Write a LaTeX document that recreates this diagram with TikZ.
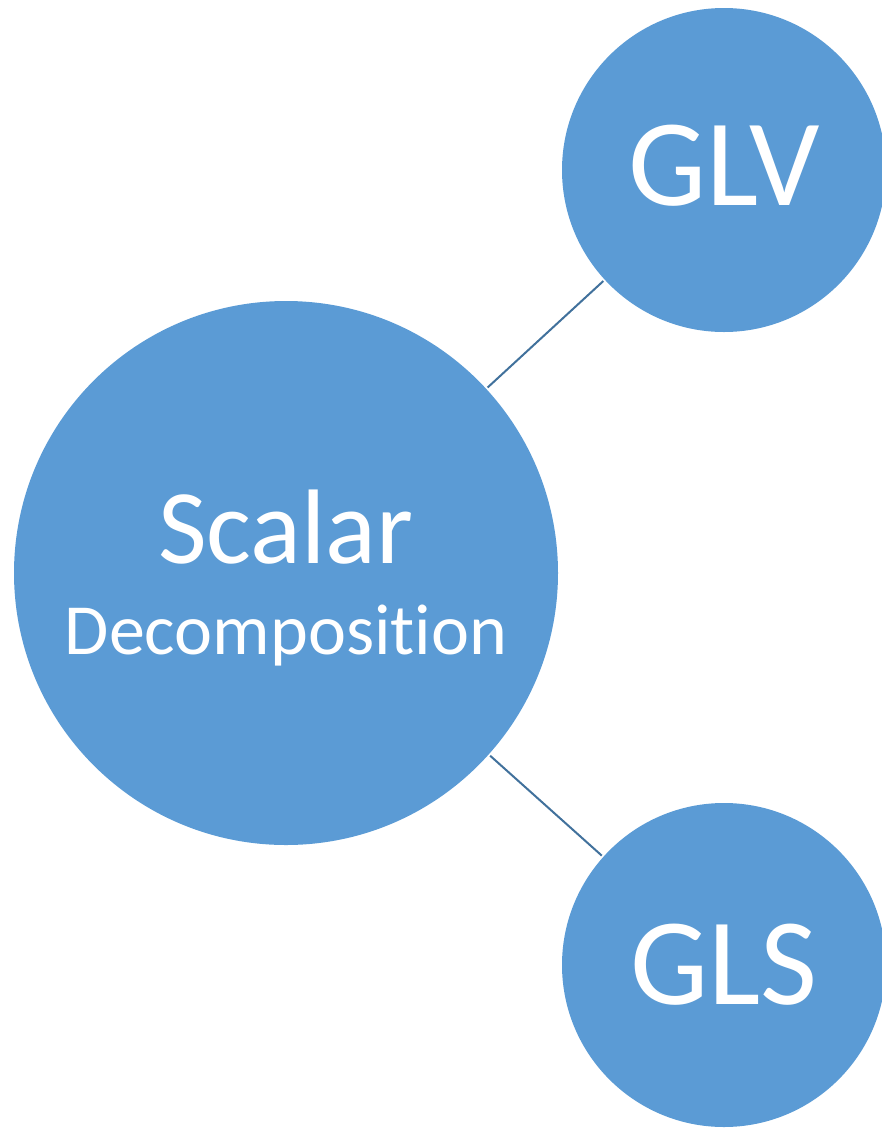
\documentclass[tikz,border=0pt]{standalone}
\usepackage{fontspec}
\setmainfont[Ligatures=NoCommon]{Carlito}
\definecolor{bubble}{HTML}{5B9BD5}
\definecolor{link}{HTML}{41719C}

\begin{document}
\begin{tikzpicture}[x=1pt,y=-1pt,bubble node/.style={circle,fill=bubble,text=white,inner sep=0pt,outer sep=2pt,align=center}]
\tikzset{link line/.style={draw=link,line width=2pt}}
\useasboundingbox (0,0) rectangle (882,1128);
\node[bubble node,minimum size=544pt,font=\fontsize{72}{90}\selectfont] (scalar) at (286,573)
  {{\fontsize{106}{90}\selectfont\rule{0pt}{84pt}Scalar}\\[1pt]Decomposition};
\node[bubble node,minimum size=324pt,font=\fontsize{124}{124}\selectfont] (glv) at (724,170) {\rule[-10pt]{0pt}{10pt}GLV};
\node[bubble node,minimum size=324pt,font=\fontsize{124}{124}\selectfont] (gls) at (724,965) {GLS};
\draw[link line] (scalar) -- (glv);
\draw[link line] (scalar) -- (gls);
\end{tikzpicture}
\end{document}
